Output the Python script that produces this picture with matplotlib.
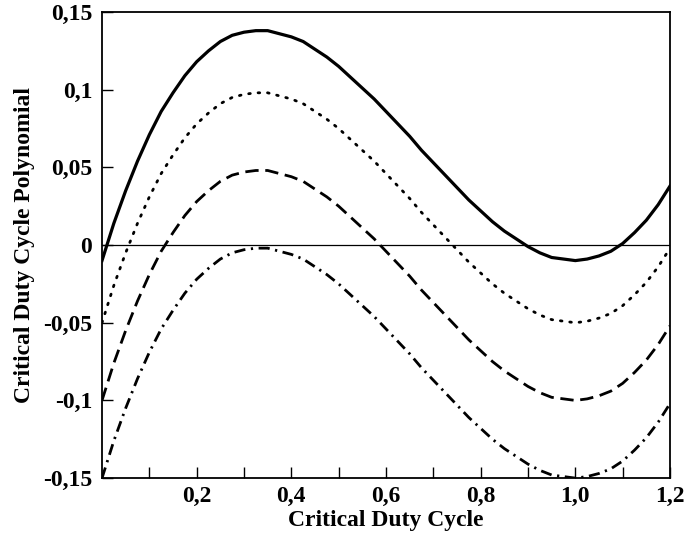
import matplotlib
matplotlib.use("Agg")
import matplotlib.pyplot as plt
from matplotlib.ticker import FixedLocator

duty = [0.0, 0.025, 0.05, 0.075, 0.1, 0.125, 0.15, 0.175, 0.2, 0.225, 0.25, 0.275,
        0.3, 0.325, 0.35, 0.375, 0.4, 0.425, 0.45, 0.475, 0.5, 0.525, 0.55, 0.575,
        0.6, 0.625, 0.65, 0.675, 0.7, 0.725, 0.75, 0.775, 0.8, 0.825, 0.85, 0.875,
        0.9, 0.925, 0.95, 0.975, 1.0, 1.025, 1.05, 1.075, 1.1, 1.125, 1.15, 1.175, 1.2]

poly_solid = [-0.010, 0.014, 0.035, 0.054, 0.071, 0.086, 0.098, 0.109, 0.118, 0.125, 0.131, 0.135,
              0.137, 0.138, 0.138, 0.136, 0.134, 0.131, 0.126, 0.121, 0.115, 0.108, 0.101, 0.094,
              0.086, 0.078, 0.070, 0.061, 0.053, 0.045, 0.037, 0.029, 0.022, 0.015, 0.009, 0.004,
              -0.001, -0.005, -0.008, -0.009, -0.010, -0.009, -0.007, -0.004, 0.001, 0.008, 0.016, 0.026, 0.038]

poly_dotted = [-0.050, -0.026, -0.005, 0.014, 0.031, 0.046, 0.058, 0.069, 0.078, 0.085, 0.091, 0.095,
               0.097, 0.098, 0.098, 0.096, 0.094, 0.091, 0.086, 0.081, 0.075, 0.068, 0.061, 0.054,
               0.046, 0.038, 0.030, 0.021, 0.013, 0.005, -0.003, -0.011, -0.018, -0.025, -0.031, -0.036,
               -0.041, -0.045, -0.048, -0.049, -0.050, -0.049, -0.047, -0.044, -0.039, -0.032, -0.024, -0.014, -0.002]

poly_dashed = [-0.100, -0.076, -0.055, -0.036, -0.019, -0.004, 0.008, 0.019, 0.028, 0.035, 0.041, 0.045,
               0.047, 0.048, 0.048, 0.046, 0.044, 0.041, 0.036, 0.031, 0.025, 0.018, 0.011, 0.004,
               -0.004, -0.012, -0.020, -0.029, -0.037, -0.045, -0.053, -0.061, -0.068, -0.075, -0.081, -0.086,
               -0.091, -0.095, -0.098, -0.099, -0.100, -0.099, -0.097, -0.094, -0.089, -0.082, -0.074, -0.064, -0.052]

poly_dashdot = [-0.150, -0.126, -0.105, -0.086, -0.069, -0.054, -0.042, -0.031, -0.022, -0.015, -0.009, -0.005,
                -0.003, -0.002, -0.002, -0.004, -0.006, -0.009, -0.014, -0.019, -0.025, -0.032, -0.039, -0.046,
                -0.054, -0.062, -0.070, -0.079, -0.087, -0.095, -0.103, -0.111, -0.118, -0.125, -0.131, -0.136,
                -0.141, -0.145, -0.148, -0.149, -0.150, -0.149, -0.147, -0.144, -0.139, -0.132, -0.124, -0.114, -0.102]

x_ticks = [0.1, 0.2, 0.3, 0.4, 0.5, 0.6, 0.7, 0.8, 0.9, 1.0, 1.1, 1.2]
x_labeled = [0.2, 0.4, 0.6, 0.8, 1.0, 1.2]
x_labels = ["0,2", "0,4", "0,6", "0,8", "1,0", "1,2"]
y_ticks = [-0.15, -0.1, -0.05, 0.0, 0.05, 0.1, 0.15]
y_labels = ["-0,15", "-0,1", "-0,05", "0", "0,05", "0,1", "0,15"]

plt.rcParams['font.family'] = ['Liberation Serif', 'DejaVu Serif']
plt.rcParams['font.weight'] = 'bold'

fig = plt.figure(figsize=(6.86, 5.36), dpi=100)
ax = fig.add_axes([0.1487, 0.108, 0.828, 0.8696])

lw = 2.0
ax.axhline(0, color='black', lw=0.9, zorder=1)
ax.plot(duty, poly_solid, color='black', lw=2.3, ls='-', solid_joinstyle='round')
ax.plot(duty, poly_dotted, color='black', lw=lw, ls=(0, (0.6, 2.8)), dash_capstyle='round')
ax.plot(duty, poly_dashed, color='black', lw=lw, ls=(0, (4.8, 2.4)))
ax.plot(duty, poly_dashdot, color='black', lw=lw, ls=(0, (4.0, 2.0, 0.8, 2.0)))

ax.set_xlim(0, 1.2)
ax.set_ylim(-0.15, 0.15)

ax.xaxis.set_major_locator(FixedLocator(x_labeled))
ax.set_xticklabels(x_labels)
ax.xaxis.set_minor_locator(FixedLocator([t for t in x_ticks if t not in x_labeled]))
ax.set_yticks(y_ticks)
ax.set_yticklabels(y_labels)

ax.tick_params(axis='both', which='both', direction='in', length=8, width=1, labelsize=17)
ax.tick_params(axis='x', which='both', top=False, pad=6)
ax.tick_params(axis='y', right=False, pad=7)
for s in ax.spines.values():
    s.set_linewidth(1.3)

ax.set_xlabel("Critical Duty Cycle", fontsize=17, fontweight='bold')
ax.xaxis.set_label_coords(0.5, -0.068)
ax.set_ylabel("Critical Duty Cycle Polynomial", fontsize=17, fontweight='bold', labelpad=6)

fig.savefig("out.png", dpi=100)
